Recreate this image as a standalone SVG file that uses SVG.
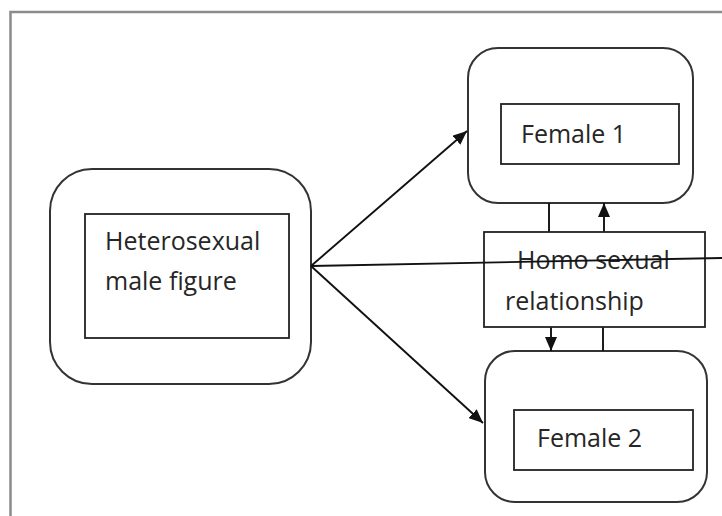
<svg xmlns="http://www.w3.org/2000/svg" width="722" height="516" viewBox="0 0 722 516">
  <style>
    .frame { fill: none; stroke: #8a8a8a; stroke-width: 2.5; }
    .outer { fill: #ffffff; stroke: #333333; stroke-width: 2; }
    .inner { fill: #ffffff; stroke: #222222; stroke-width: 1.8; }
    .label { font-family: "Open Sans", "DejaVu Sans", sans-serif; font-size: 25px; fill: #262626; }
    .link { fill: none; stroke: #111111; stroke-width: 1.9; }
  </style>
  <defs>
    <marker id="arrow" viewBox="0 0 14 12" refX="14" refY="6" markerWidth="14" markerHeight="12" markerUnits="userSpaceOnUse" orient="auto">
      <path d="M0,0 L14,6 L0,12 Z" fill="#111111"/>
    </marker>
  </defs>
  <rect x="0" y="0" width="722" height="516" fill="#ffffff"/>

  <!-- outer frame (open at right and bottom) -->
  <path class="frame" d="M10.5,516 L10.5,12 L722,12"/>

  <g id="male">
    <rect class="outer" x="50" y="169" width="261" height="215" rx="42" ry="42"/>
    <rect class="inner" x="85" y="214" width="204" height="124"/>
    <text class="label" x="105" y="250">Heterosexual</text>
    <text class="label" x="105" y="290">male figure</text>
  </g>

  <g id="female1">
    <rect class="outer" x="468" y="48" width="225" height="155" rx="30" ry="30"/>
    <rect class="inner" x="501" y="104" width="178" height="60"/>
    <text class="label" x="521" y="143">Female 1</text>
  </g>

  <g id="female2">
    <rect class="outer" x="485" y="351" width="222" height="151" rx="30" ry="30"/>
    <rect class="inner" x="514" y="410" width="179" height="60"/>
    <text class="label" x="537" y="447">Female 2</text>
  </g>

  <g id="connectors">
    <line class="link" x1="311" y1="266" x2="467" y2="131" marker-end="url(#arrow)"/>
    <line class="link" x1="311" y1="266" x2="483" y2="423" marker-end="url(#arrow)"/>
    <line class="link" x1="549" y1="203" x2="549" y2="232"/>
    <line class="link" x1="604" y1="232" x2="604" y2="203" marker-end="url(#arrow)"/>
    <line class="link" x1="551" y1="327" x2="551" y2="351" marker-end="url(#arrow)"/>
    <line class="link" x1="603" y1="327" x2="603" y2="351"/>
  </g>

  <g id="relationship">
    <rect class="inner" x="484" y="232" width="221" height="95"/>
    <text class="label" x="517" y="269">Homo sexual</text>
    <text class="label" x="505" y="310">relationship</text>
  </g>

  <!-- long horizontal connector drawn over the relationship box -->
  <g id="connector-horizontal">
    <line class="link" x1="311" y1="266" x2="722" y2="258"/>
  </g>
</svg>
